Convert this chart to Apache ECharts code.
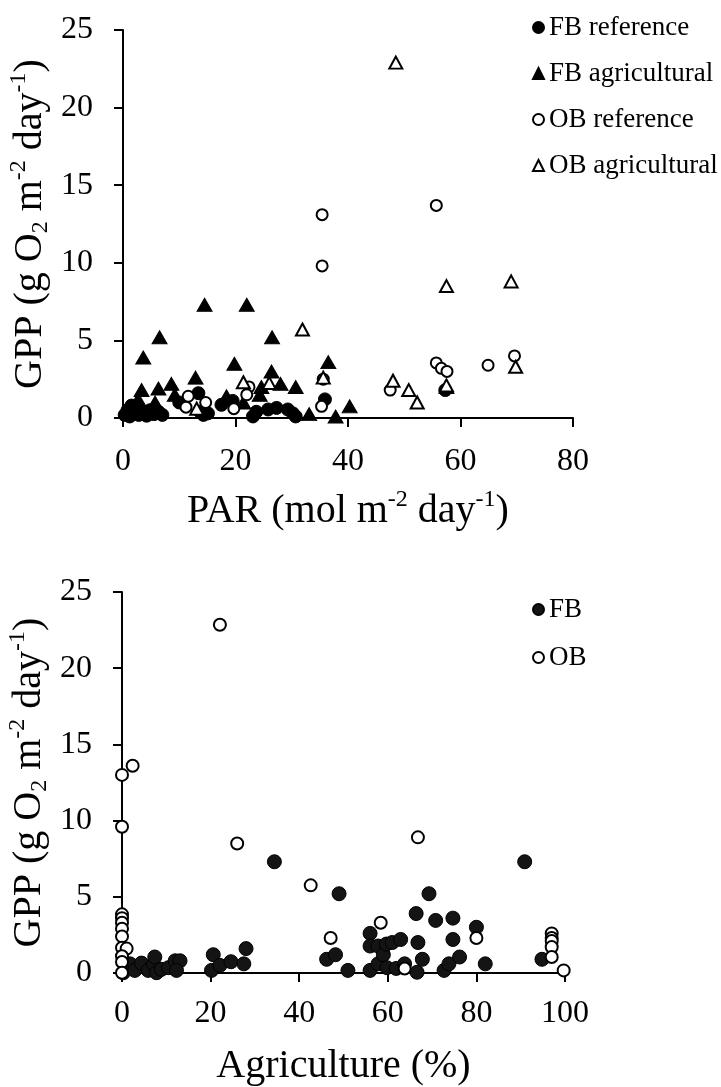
<!DOCTYPE html>
<html lang="en">
<head>
<meta charset="UTF-8">
<title>GPP vs PAR and Agriculture</title>
<script src="https://cdn.jsdelivr.net/npm/echarts@6/dist/echarts.min.js"></script>
<style>
  html, body { margin: 0; background: #fff; }
  #chart { width: 721px; height: 1087px; }
</style>
</head>
<body>
<div id="chart"></div>
<script>
// top panel: GPP against PAR, [PAR, GPP]
const fbReference = [
  [0.3, 0.2], [0.8, 0.5], [1.2, 0.1], [1.8, 0.3], [2.3, 0.6], [2.8, 0.2], [3.3, 0.4],
  [4.2, 0.15], [4.8, 0.5], [5.5, 0.25], [6.3, 0.4], [7, 0.2], [1.5, 0.8], [10, 1.0],
  [13.4, 1.6], [13.7, 0.4], [14.3, 0.2], [15.1, 0.3], [17.5, 0.85], [19.5, 1.1],
  [23.1, 0.1], [23.7, 0.4], [25.8, 0.55], [27.3, 0.65], [29.3, 0.55], [30.2, 0.3],
  [30.7, 0.1], [35.9, 1.2], [57.3, 1.8]
];
const fbAgricultural = [
  [14.5, 7.3], [22, 7.3], [6.5, 5.2], [3.6, 3.9], [26.5, 5.2], [19.8, 3.5], [36.5, 3.6],
  [26.4, 3.0], [12.9, 2.6], [8.6, 2.2], [6.3, 1.9], [3.3, 1.8], [9.2, 1.5], [24.6, 2.0],
  [28, 2.2], [30.7, 2.0], [24.3, 1.5], [18.4, 1.4], [21.4, 1.0], [5.7, 1.0], [2.7, 1.2],
  [1.5, 0.3], [3, 0.6], [4.5, 0.4], [40.3, 0.75], [37.8, 0.1], [33.1, 0.25], [57.5, 2.0]
];
const obReference = [
  [35.4, 13.1], [35.4, 9.8], [55.7, 13.7], [11.6, 1.4], [14.7, 1.0], [11.2, 0.7],
  [19.7, 0.6], [22.4, 2.0], [22, 1.5], [35.3, 0.75], [35.6, 2.5], [47.5, 1.8],
  [55.7, 3.55], [56.6, 3.2], [57.6, 3.0], [64.9, 3.4], [69.6, 4.0]
];
const obAgricultural = [
  [48.5, 22.9], [57.5, 8.5], [69, 8.8], [31.9, 5.7], [21.4, 2.3], [26, 2.25], [35.6, 2.6],
  [13.1, 0.6], [48, 2.4], [50.8, 1.8], [52.3, 1.0], [57.5, 2.1], [69.8, 3.3]
];

// bottom panel: GPP against agriculture, [agriculture %, GPP]
const fbAgri = [
  [0.3, 0.02], [1.8, 0.6], [2.9, 0.17], [4.4, 0.65], [5.9, 0.17], [7.1, 0.57], [7.4, 1.05],
  [7.8, 0.02], [8.9, 0.24], [10.5, 0.35], [12, 0.8], [13.1, 0.8], [12.3, 0.17], [20.2, 0.17],
  [20.6, 1.2], [22.1, 0.5], [24.6, 0.74], [27.5, 0.6], [28, 1.6], [34.4, 7.3], [46.2, 0.9],
  [48.2, 1.2], [49, 5.2], [51, 0.17], [56, 2.6], [56, 1.77], [56, 0.17], [57.8, 1.77],
  [57.8, 0.6], [59, 1.2], [59.7, 1.9], [59.8, 0.35], [61, 2.0], [61.9, 0.3], [62.9, 2.2],
  [63.8, 0.6], [66.4, 3.9], [66.8, 2.0], [66.6, 0.05], [67.8, 0.9], [69.3, 5.2], [70.8, 3.45],
  [72.7, 0.17], [73.8, 0.6], [74.7, 3.6], [74.7, 2.2], [76.2, 1.05], [80, 3.0], [82, 0.6],
  [90.9, 7.3], [94.8, 0.9]
];
const obAgri = [
  [0, 13.0], [2.4, 13.6], [0, 9.6], [22.1, 22.85], [26, 8.5], [42.6, 5.75], [47.1, 2.3],
  [58.4, 3.3], [63.8, 0.3], [66.8, 8.9], [80, 2.3], [97, 2.6], [97, 2.3], [97, 2.1],
  [97, 1.7], [97, 1.05], [99.7, 0.17], [0, 3.85], [0, 3.6], [0, 3.3], [0, 2.9], [0, 2.4],
  [0, 1.66], [1.05, 1.6], [0, 1.1], [0, 0.72], [0, 0.02]
];

const parTicks = { min: 0, max: 80, interval: 20 };
const agriTicks = { min: 0, max: 100, interval: 20 };
const gppTicks = { min: 0, max: 25, interval: 5 };

const serif = 'Liberation Serif';
const nameRich = {
  n: { fontFamily: serif, fontSize: 40, color: '#000', lineHeight: 46 },
  sup: { fontFamily: serif, fontSize: 24, color: '#000', verticalAlign: 'top' },
  sub: { fontFamily: serif, fontSize: 24, color: '#000', verticalAlign: 'bottom' }
};
const gppName = '{n|GPP (g O}{sub|2}{n| m}{sup|-2}{n| day}{sup|-1}{n|)}';

function xAxisOf(grid, ticks, name, labelMargin) {
  return {
    gridIndex: grid, type: 'value', ...ticks,
    axisLine: { show: true, lineStyle: { color: '#000', width: 2 } },
    axisTick: { show: true, length: 9, lineStyle: { color: '#000', width: 2 } },
    splitLine: { show: false },
    axisLabel: { color: '#000', fontFamily: serif, fontSize: 32, margin: labelMargin },
    name: name, nameLocation: 'middle', nameGap: 70, nameMoveOverlap: false,
    nameTextStyle: { rich: nameRich }
  };
}
function yAxisOf(grid) {
  return {
    gridIndex: grid, type: 'value', ...gppTicks,
    axisLine: { show: true, lineStyle: { color: '#000', width: 2 } },
    axisTick: { show: true, length: 9, lineStyle: { color: '#000', width: 2 } },
    splitLine: { show: false },
    axisLabel: { color: '#000', fontFamily: serif, fontSize: 32, margin: 30 },
    name: gppName, nameLocation: 'middle', nameGap: 70, nameRotate: 90, nameMoveOverlap: false,
    nameTextStyle: { rich: nameRich }
  };
}

const filled = { color: '#000', borderColor: '#000', borderWidth: 1, opacity: 1 };
const hollow = { color: '#fff', borderColor: '#000', borderWidth: 2, opacity: 1 };

function scatter(name, data, grid, symbol, size, style) {
  return {
    name: name, type: 'scatter', data: data, xAxisIndex: grid, yAxisIndex: grid,
    symbol: symbol, symbolSize: size, itemStyle: style, clip: false,
    emphasis: { disabled: true }
  };
}

const legendBase = {
  orient: 'vertical', left: 527, itemWidth: 11, itemHeight: 11, itemGap: 19,
  textStyle: { fontFamily: serif, fontSize: 27, color: '#000' }, selectedMode: false
};

const chart = echarts.init(document.getElementById('chart'));
chart.setOption({
  backgroundColor: '#fff',
  animation: false,
  grid: [
    { left: 123, top: 30, width: 450, height: 388, outerBoundsMode: 'none' },
    { left: 122, top: 592, width: 443, height: 381, outerBoundsMode: 'none' }
  ],
  legend: [
    { ...legendBase, top: 9, data: ['FB reference', 'FB agricultural', 'OB reference', 'OB agricultural'] },
    { ...legendBase, top: 591, itemGap: 21, data: ['FB', 'OB'] }
  ],
  xAxis: [
    xAxisOf(0, parTicks, '{n|PAR (mol m}{sup|-2}{n| day}{sup|-1}{n|)}', 28),
    xAxisOf(1, agriTicks, '{n|Agriculture (%)}', 25)
  ],
  yAxis: [yAxisOf(0), yAxisOf(1)],
  series: [
    scatter('FB reference', fbReference, 0, 'circle', 13, filled),
    scatter('FB agricultural', fbAgricultural, 0, 'triangle', [15, 13], filled),
    scatter('OB reference', obReference, 0, 'circle', 11, hollow),
    scatter('OB agricultural', obAgricultural, 0, 'triangle', [13, 12], hollow),
    scatter('FB', fbAgri, 1, 'circle', 14, { color: '#141414', borderColor: '#000', borderWidth: 1, opacity: 1 }),
    scatter('OB', obAgri, 1, 'circle', 12, hollow)
  ]
});
</script>
</body>
</html>
